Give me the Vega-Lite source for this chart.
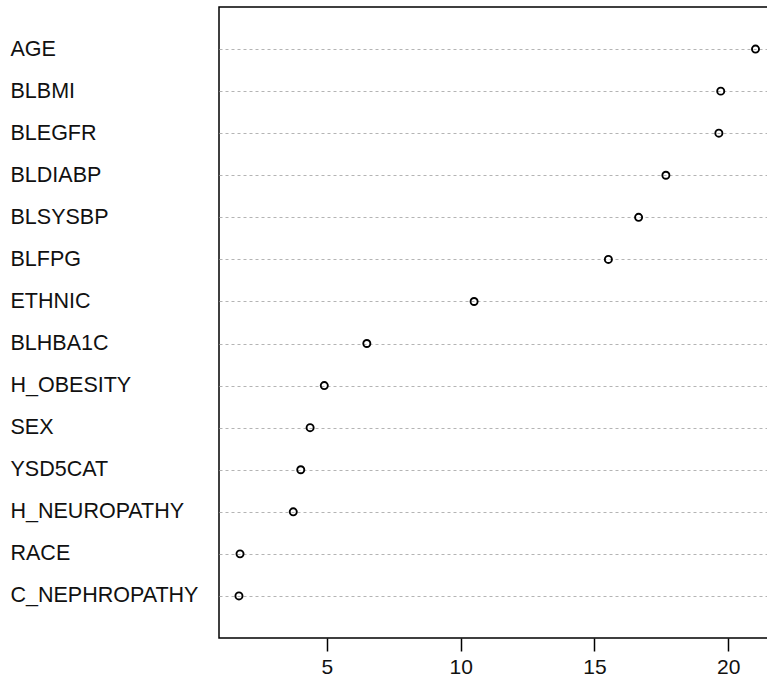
{
  "$schema": "https://vega.github.io/schema/vega-lite/v6.json",
  "autosize": {"type": "none"},
  "padding": {"left": 219, "top": 7, "right": 0, "bottom": 52},
  "width": 549,
  "height": 631,
  "background": "white",
  "config": {
    "view": {"stroke": "black", "strokeWidth": 1.5},
    "font": "Liberation Sans"
  },
  "data": {
    "values": [
      {"variable": "AGE", "importance": 21.02},
      {"variable": "BLBMI", "importance": 19.72},
      {"variable": "BLEGFR", "importance": 19.65},
      {"variable": "BLDIABP", "importance": 17.67},
      {"variable": "BLSYSBP", "importance": 16.65},
      {"variable": "BLFPG", "importance": 15.52},
      {"variable": "ETHNIC", "importance": 10.50},
      {"variable": "BLHBA1C", "importance": 6.49},
      {"variable": "H_OBESITY", "importance": 4.90},
      {"variable": "SEX", "importance": 4.37},
      {"variable": "YSD5CAT", "importance": 4.02},
      {"variable": "H_NEUROPATHY", "importance": 3.74},
      {"variable": "RACE", "importance": 1.75},
      {"variable": "C_NEPHROPATHY", "importance": 1.71}
    ]
  },
  "mark": {"type": "point", "shape": "circle", "filled": false, "stroke": "black", "strokeWidth": 1.9, "size": 50, "opacity": 1},
  "encoding": {
    "x": {
      "field": "importance",
      "type": "quantitative",
      "scale": {"domain": [0.964, 21.487], "nice": false, "zero": false},
      "axis": {
        "title": null,
        "values": [5, 10, 15, 20],
        "domain": false,
        "grid": false,
        "ticks": true,
        "tickSize": 13,
        "tickColor": "black",
        "tickWidth": 1.5,
        "labelFontSize": 21,
        "labelColor": "#111111",
        "labelPadding": 5,
        "labelFont": "Liberation Sans"
      }
    },
    "y": {
      "field": "variable",
      "type": "nominal",
      "sort": null,
      "scale": {"type": "point", "padding": 1},
      "axis": {
        "title": null,
        "domain": false,
        "ticks": false,
        "tickSize": 0,
        "grid": true,
        "gridColor": "#b4b4b4",
        "gridDash": [3, 3],
        "gridWidth": 1,
        "labelAlign": "left",
        "labelPadding": 209,
        "labelLimit": 0,
        "labelFontSize": 21.5,
        "labelColor": "#111111",
        "labelFont": "Liberation Sans"
      }
    }
  }
}
